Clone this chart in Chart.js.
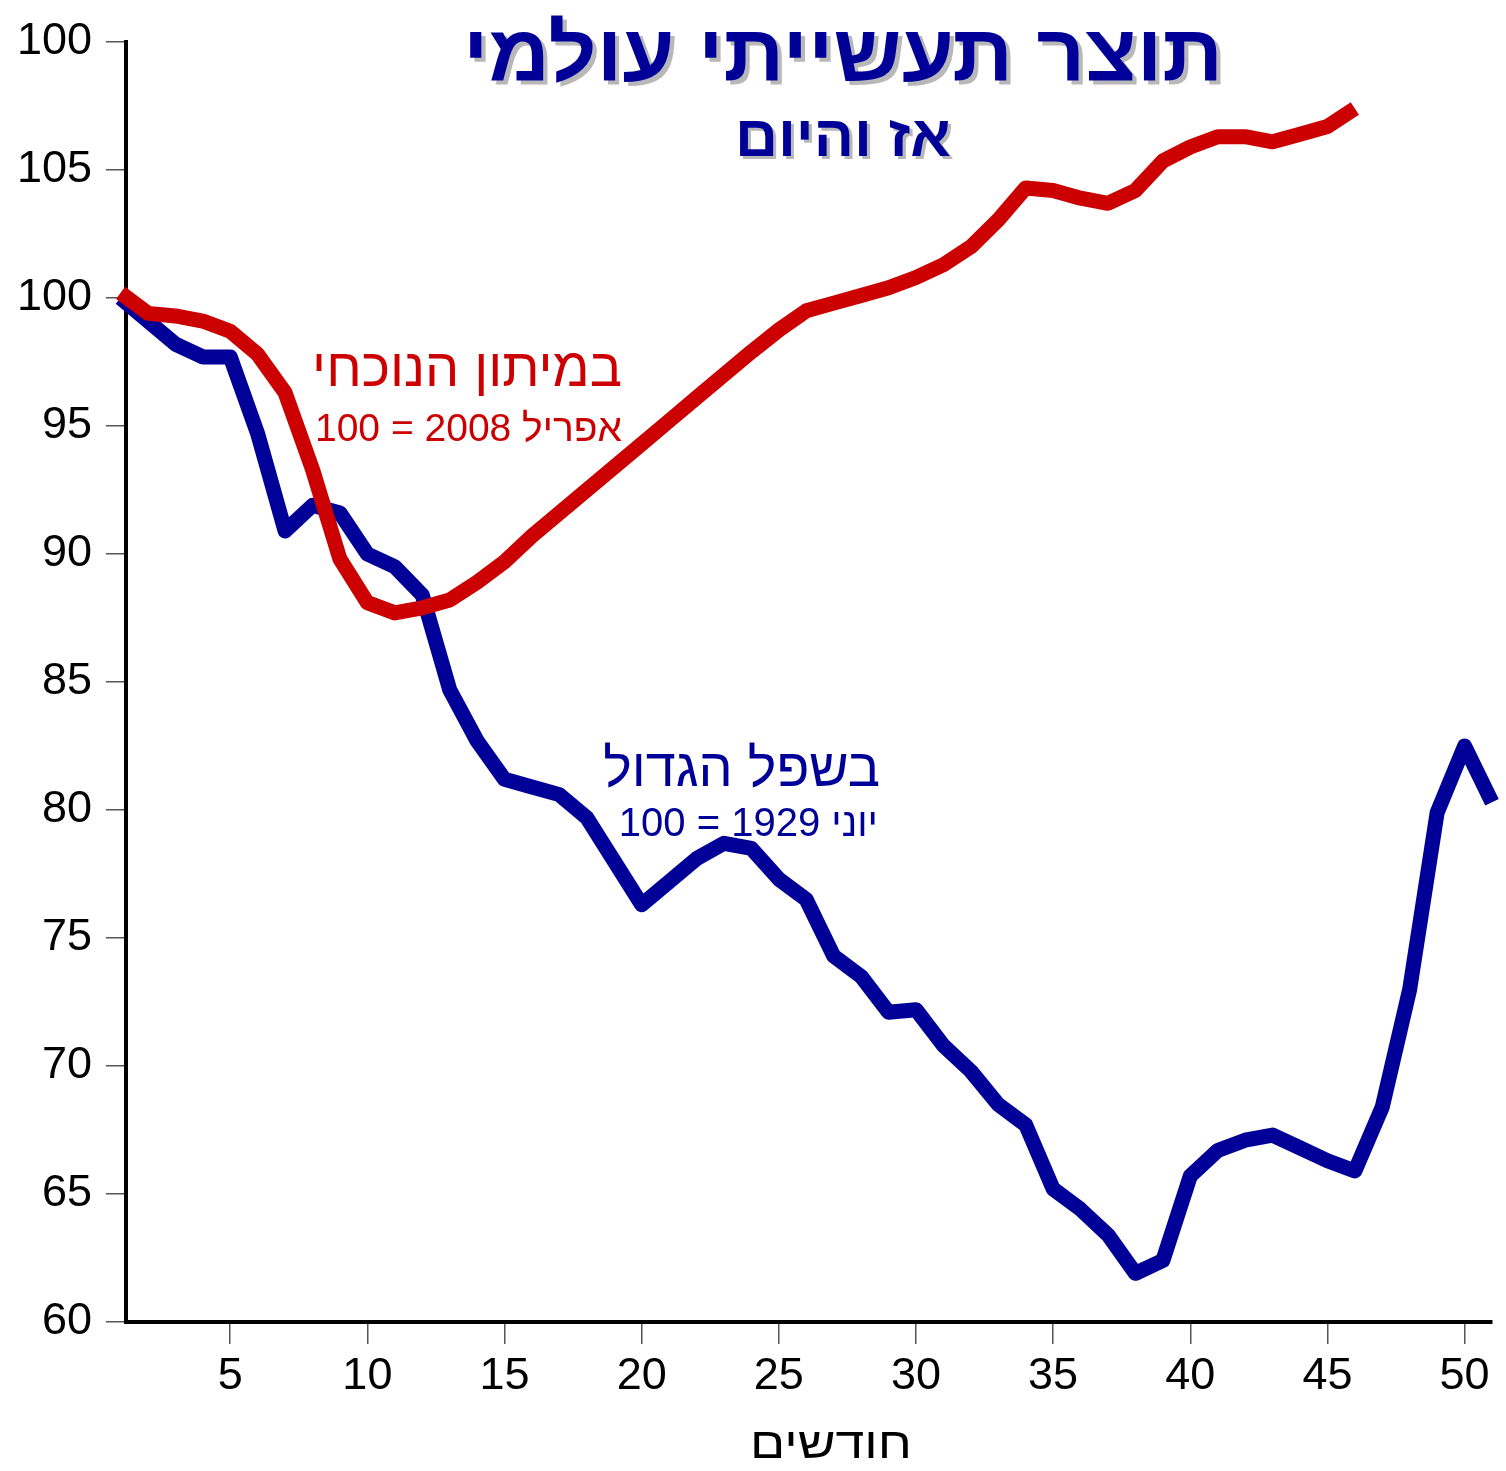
<!DOCTYPE html>
<html>
<head>
<meta charset="utf-8">
<script src="https://cdn.jsdelivr.net/npm/chart.js@4.4.1/dist/chart.umd.min.js"></script>
<style>
  html, body { margin: 0; padding: 0; background: #fff; }
  #wrap { width: 1506px; height: 1471px; }
</style>
</head>
<body>
<div id="wrap"><canvas id="chart" width="1506" height="1471"></canvas></div>
<script>
// חודשים מתחילת המשבר
const months = [1, 2, 3, 4, 5, 6, 7, 8, 9, 10, 11, 12, 13, 14, 15, 16, 17, 18, 19, 20,
  21, 22, 23, 24, 25, 26, 27, 28, 29, 30, 31, 32, 33, 34, 35, 36, 37, 38, 39, 40,
  41, 42, 43, 44, 45, 46, 47, 48, 49, 50, 51];

// השפל הגדול, יוני 1929 = 100
const depression = [100.0, 99.1, 98.2, 97.7, 97.7, 94.7, 90.9, 91.9, 91.6, 90.0,
  89.5, 88.4, 84.7, 82.7, 81.2, 80.9, 80.6, 79.7, 78.0, 76.3,
  77.2, 78.1, 78.7, 78.5, 77.3, 76.5, 74.3, 73.5, 72.1, 72.2,
  70.8, 69.8, 68.5, 67.7, 65.2, 64.4, 63.4, 61.9, 62.4, 65.7,
  66.7, 67.1, 67.3, 66.8, 66.3, 65.9, 68.4, 73.0, 79.9, 82.5, 80.3];

// המיתון הנוכחי, אפריל 2008 = 100
const recession = [100.2, 99.4, 99.3, 99.1, 98.7, 97.8, 96.3, 93.3, 89.8, 88.1,
  87.7, 87.9, 88.2, 88.9, 89.7, 90.7, 91.6, 92.5, 93.4, 94.3,
  95.2, 96.1, 97.0, 97.9, 98.75, 99.5, 99.8, 100.1, 100.4, 100.8,
  101.3, 102.0, 103.05, 104.3, 104.2, 103.9, 103.7, 104.2, 105.35, 105.9,
  106.3, 106.3, 106.1, 106.4, 106.7, 107.4];

const xTicks = [5, 10, 15, 20, 25, 30, 35, 40, 45, 50];
const yTicks = [60, 65, 70, 75, 80, 85, 90, 95, 100, 105, 110];
const yTickLabels = ['60', '65', '70', '75', '80', '85', '90', '95', '100', '105', '100'];

const BLUE = '#000099';
const RED = '#cc0000';
const FONT = '"Liberation Sans", Arial, "DejaVu Sans", sans-serif';

function toPoints(vals) {
  return vals.map((v, i) => ({ x: months[i], y: v }));
}

// draws rtl text centred on cx, squeezed to a given width
function fitText(ctx, text, cx, baseline, font, color, width, shadow) {
  ctx.save();
  ctx.font = font;
  ctx.direction = 'rtl';
  ctx.textAlign = 'center';
  ctx.textBaseline = 'alphabetic';
  const w = ctx.measureText(text).width;
  ctx.translate(cx, baseline);
  ctx.scale(width / w, 1);
  if (shadow) {
    ctx.fillStyle = '#b8b8b8';
    ctx.fillText(text, shadow, shadow);
  }
  ctx.fillStyle = color;
  ctx.fillText(text, 0, 0);
  ctx.restore();
}

function rtlText(ctx, text, xRight, baseline, font, color) {
  ctx.save();
  ctx.font = font;
  ctx.direction = 'rtl';
  ctx.textAlign = 'right';
  ctx.textBaseline = 'alphabetic';
  ctx.fillStyle = color;
  ctx.fillText(text, xRight, baseline);
  ctx.restore();
}

const labels = {
  id: 'labels',
  afterDraw(chart) {
    const ctx = chart.ctx;
    fitText(ctx, 'תוצר תעשייתי עולמי', 843, 80, 'bold 80px ' + FONT, BLUE, 760, 4);
    fitText(ctx, 'אז והיום', 843, 156, 'bold 58px ' + FONT, BLUE, 216, 3);
    rtlText(ctx, 'במיתון הנוכחי', 622, 386, '54px ' + FONT, RED);
    rtlText(ctx, 'אפריל 2008 = 100', 622, 441, '39px ' + FONT, RED);
    rtlText(ctx, 'בשפל הגדול', 880, 786, '54px ' + FONT, BLUE);
    rtlText(ctx, 'יוני 1929 = 100', 878, 836, '40px ' + FONT, BLUE);
    fitText(ctx, 'חודשים', 831, 1458, '44px ' + FONT, '#000', 162, 0);
  }
};

new Chart(document.getElementById('chart'), {
  type: 'line',
  data: {
    datasets: [
      {
        // red drawn over blue where they cross
        label: 'במיתון הנוכחי',
        data: toPoints(recession),
        borderColor: RED,
        borderWidth: 15,
        borderJoinStyle: 'round',
        pointRadius: 0,
        tension: 0,
        clip: false
      },
      {
        label: 'בשפל הגדול',
        data: toPoints(depression),
        borderColor: BLUE,
        borderWidth: 15,
        borderJoinStyle: 'round',
        pointRadius: 0,
        tension: 0,
        clip: false
      }
    ]
  },
  options: {
    responsive: false,
    animation: false,
    events: [],
    layout: { padding: { top: 42, right: 14, left: 0, bottom: 0 } },
    plugins: {
      legend: { display: false },
      tooltip: { enabled: false }
    },
    scales: {
      x: {
        type: 'linear',
        min: 1.2,
        max: 51,
        afterBuildTicks: (s) => { s.ticks = xTicks.map(v => ({ value: v })); },
        afterFit: (s) => { s.height = 149; },
        border: { display: true, color: '#000', width: 4 },
        grid: { drawOnChartArea: false, drawTicks: true, tickLength: 22, tickColor: '#555', lineWidth: 1.5 },
        ticks: { color: '#000', font: { family: FONT, size: 45 }, padding: 6, maxRotation: 0, autoSkip: false }
      },
      y: {
        min: 60,
        max: 110,
        afterBuildTicks: (s) => { s.ticks = yTicks.map(v => ({ value: v })); },
        afterFit: (s) => { s.width = 126; },
        border: { display: true, color: '#000', width: 4 },
        grid: { drawOnChartArea: false, drawTicks: true, tickLength: 20, tickColor: '#555', lineWidth: 1.5 },
        ticks: {
          color: '#000',
          font: { family: FONT, size: 45 },
          padding: 14,
          autoSkip: false,
          callback: (v) => yTickLabels[yTicks.indexOf(v)]
        }
      }
    }
  },
  plugins: [labels]
});
</script>
</body>
</html>
